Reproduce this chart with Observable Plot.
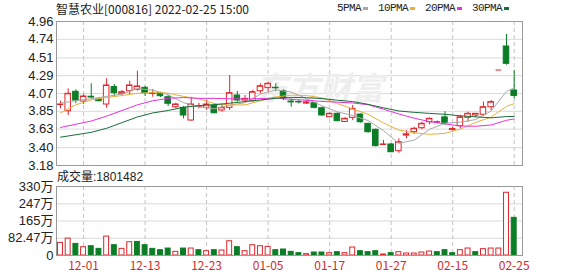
<!DOCTYPE html>
<html><head><meta charset="utf-8">
<script src="https://cdn.jsdelivr.net/npm/d3@7"></script>
<script src="https://cdn.jsdelivr.net/npm/@observablehq/plot@0.6"></script>
<style>
body{margin:0;background:#fff;}
#wrap{position:relative;width:578px;height:276px;overflow:hidden;background:#fff;}
#wrap svg{position:absolute;left:0;}
#title{position:absolute;left:56px;top:2px;font:12px/14px "Noto Sans CJK SC",sans-serif;color:#222;white-space:pre;}
#legend{position:absolute;left:337px;top:1px;display:flex;align-items:center;font:11px/14px "Liberation Mono",monospace;letter-spacing:-0.6px;color:#222;}
#legend .sw{display:inline-block;width:5px;height:3px;margin-left:2px;margin-right:10px;}
#volLabel{position:absolute;left:57px;top:170px;font:12px/14px "Liberation Sans","Noto Sans CJK SC",sans-serif;color:#222;}
</style></head>
<body>
<div id="wrap">
  <div id="title"></div>
  <div id="legend"></div>
  <div id="volLabel"></div>
</div>
<script>
const titleText = "智慧农业[000816] 2022-02-25 15:00";
const volumeText = "成交量:1801482";
const maNames = ["5PMA","10PMA","20PMA","30PMA"];
const maColors = ["#a8a8a8","#e6b23c","#e632e0","#1a6e3a"];

const dates = ["11-26","11-29","11-30","12-01","12-02","12-03","12-06","12-07","12-08","12-09","12-10","12-13","12-14","12-15","12-16","12-17","12-20","12-21","12-22","12-23","12-24","12-27","12-28","12-29","12-30","12-31","01-04","01-05","01-06","01-07","01-10","01-11","01-12","01-13","01-14","01-17","01-18","01-19","01-20","01-21","01-24","01-25","01-26","01-27","01-28","02-07","02-08","02-09","02-10","02-11","02-14","02-15","02-16","02-17","02-18","02-21","02-22","02-23","02-24","02-25"];

const open = [3.93,3.851,4.091,3.971,4.03,3.995,3.934,4.149,4.066,4.098, 4.116,4.14,4.066,4.074,4.024,3.90,3.893,3.736,3.905,3.893, 3.922,3.86,3.893,4.045,3.983,3.975,4.098,4.14,4.14,4.098, 3.97,3.965,3.945,3.95,3.888,3.777,3.819,3.718,3.769,3.81, 3.695,3.621,3.435,3.44,3.357,3.55,3.592,3.641,3.715,3.713, 3.775,3.62,3.666,3.769,3.798,3.807,3.90,4.36,4.651,4.107];
const high = [3.975,4.128,4.116,4.058,4.19,4.01,4.252,4.181,4.107,4.222, 4.346,4.157,4.12,4.086,4.045,3.95,3.909,4.024,3.95,3.983, 3.943,3.943,4.292,4.095,4.045,4.107,4.19,4.21,4.19,4.116, 4.004,3.99,3.98,3.96,3.90,3.83,3.83,3.77,3.922,3.819, 3.703,3.63,3.49,3.45,3.51,3.61,3.653,3.715,3.769,3.73, 3.845,3.653,3.80,3.839,3.82,3.963,3.983,4.36,4.80,4.354];
const low = [3.88,3.798,3.943,3.934,4.01,3.965,3.888,4.024,4.045,4.058, 4.098,4.033,4.024,4.02,3.909,3.88,3.757,3.728,3.88,3.86, 3.819,3.839,3.86,3.963,3.963,3.963,4.066,4.086,4.098,3.983, 3.90,3.94,3.935,3.88,3.79,3.77,3.72,3.71,3.736,3.703, 3.579,3.41,3.43,3.34,3.332,3.51,3.563,3.621,3.683,3.70, 3.674,3.604,3.634,3.715,3.769,3.786,3.86,4.36,4.42,4.004];
const close = [3.934,4.066,3.983,4.033,4.02,3.975,4.169,4.074,4.086,4.169, 4.157,4.074,4.07,4.037,3.943,3.934,3.798,3.934,3.909,3.934, 3.826,3.893,4.074,3.983,4.004,4.086,4.16,4.19,4.135,4.01, 3.96,3.96,3.96,3.893,3.798,3.819,3.728,3.757,3.88,3.715, 3.592,3.419,3.44,3.344,3.468,3.565,3.634,3.695,3.757,3.715, 3.708,3.63,3.775,3.819,3.819,3.90,3.963,4.36,4.437,4.04];

// volume in 万 (10,000 shares)
const volume = [60.3,80.9,55.5,39.7,44.4,31.7,90.4,49.2,31.7,63.5, 65.0,49.2,31.7,25.4,33.3,17.5,33.3,33.3,25.4,20.6, 25.4,23.8,68.2,39.7,20.6,49.2,44.4,41.3,25.4,28.6, 17.5,11.1,6.3,14.3,14.3,11.1,15.9,11.1,38.1,20.6, 15.9,20.6,4.8,11.1,15.9,9.5,9.5,14.3,19.0,15.9, 25.4,11.1,25.4,33.3,15.9,30.2,33.3,33.3,300.0,180.1482];
const volumeUp = [1,1,0,1,0,0,1,0,1,1, 0,0,0,0,0,1,0,1,0,1, 0,1,1,0,1,1,1,1,0,0, 0,0,1,0,0,1,0,1,1,0, 0,0,1,0,1,1,1,1,1,0, 0,0,1,1,0,1,1,1,1,0];

const maIdx = [0,2,4,6,8,10,12,14,16,18,20,22,24,26,28,30,32,34,36,38,40,42,44,46,48,50,52,54,56,58,59];
const ma5 = [3.95,3.98,4.005,4.034,4.063,4.131,4.111,4.056,3.956,3.904,3.880,3.927,3.956,4.061,4.114,4.089,4.006,3.918,3.843,3.798,3.736,3.611,3.454,3.495,3.627,3.702,3.716,3.748,3.854,4.096,4.14];
const ma10 = [3.83,3.93,3.99,4.02,4.045,4.072,4.082,4.075,4.034,4.003,3.946,3.928,3.929,3.980,4.028,4.049,4.045,4.016,3.946,3.879,3.813,3.706,3.618,3.584,3.565,3.577,3.630,3.713,3.778,3.912,3.944];
const ma20 = [3.65,3.69,3.73,3.79,3.86,3.93,3.98,4.01,4.02,4.01,4.009,4.005,4.002,4.007,4.015,3.997,3.987,3.972,3.963,3.953,3.931,3.876,3.817,3.765,3.722,3.695,3.668,3.665,3.681,3.739,3.755];
const ma30 = [3.53,3.56,3.59,3.64,3.71,3.78,3.83,3.86,3.90,3.92,3.93,3.95,3.97,3.99,4.01,4.022,4.018,4.007,3.987,3.970,3.936,3.893,3.854,3.837,3.824,3.813,3.794,3.782,3.769,3.785,3.786];

const priceTicks = [3.18,3.40,3.63,3.85,4.07,4.29,4.51,4.74,4.96];
const volTicks = [0,82.47,165,247,330];
const volTickLabels = ["0","82.47万","165万","247万","330万"];
const xTickLabels = ["12-01","12-13","12-23","01-05","01-17","01-27","02-15","02-25"];

const RED = "#e0242a", GREEN = "#0b7d26";
const candles = dates.map((d, i) => ({i, date: d, open: open[i], high: high[i], low: low[i], close: close[i], vol: volume[i], volUp: volumeUp[i]}));
const up = candles.filter(d => d.close >= d.open);
const down = candles.filter(d => d.close < d.open);
const volRed = candles.filter(d => d.volUp);
const volGreen = candles.filter(d => !d.volUp);
const tickIdx = xTickLabels.map(l => dates.indexOf(l));
const maSeries = [ma5, ma10, ma20, ma30].map(vals => maIdx.map((i, k) => ({i, v: vals[k]})));

const HB = 0.36, HV = 0.32;
const xOpt = {type: "linear", domain: [-0.52, 60.08], axis: null, label: null};
const baseStyle = {fontFamily: "'Liberation Sans', 'Noto Sans CJK SC', sans-serif", fontSize: "13px", color: "#222", background: "transparent", overflow: "visible"};

document.getElementById("title").textContent = titleText;
document.getElementById("volLabel").textContent = volumeText;
const legend = document.getElementById("legend");
maNames.forEach((n, k) => {
  const t = document.createElement("span"); t.textContent = n; legend.appendChild(t);
  const s = document.createElement("span"); s.className = "sw"; s.style.background = maColors[k]; legend.appendChild(s);
});

const price = Plot.plot({
  width: 578, height: 172, marginLeft: 56, marginRight: 56, marginTop: 21, marginBottom: 7,
  style: baseStyle,
  x: xOpt,
  y: {domain: [3.18, 4.96], axis: null, label: null},
  marks: [
    Plot.gridY(priceTicks, {stroke: "#dadada", strokeOpacity: 1}),
    Plot.ruleX(tickIdx, {stroke: "#c4c4c4", strokeDasharray: "4,3"}),
    Plot.text(["东方财富"], {frameAnchor: "middle", dx: 30, dy: -4, fontSize: 32, fontWeight: "bold", fontStyle: "italic", fill: "#eeeeee", fontFamily: "'Noto Sans CJK SC'"}),
    Plot.ruleX(up, {x: "i", y1: "low", y2: "high", stroke: RED}),
    Plot.ruleX(down, {x: "i", y1: "low", y2: "high", stroke: GREEN}),
    Plot.rect(up, {x1: d => d.i - HB, x2: d => d.i + HB, y1: "open", y2: "close", fill: "white", stroke: RED}),
    Plot.rect(down, {x1: d => d.i - HB, x2: d => d.i + HB, y1: "open", y2: "close", fill: GREEN, stroke: GREEN}),
    Plot.ruleY(up, {y: "close", x1: d => d.i - HB, x2: d => d.i + HB, stroke: RED}),
    ...maSeries.map((s, k) => Plot.line(s, {x: "i", y: "v", stroke: maColors[k], strokeWidth: 1})),
    Plot.axisY(priceTicks, {tickSize: 0, tickPadding: 3, tickFormat: d => d.toFixed(2), fontSize: 13, fill: "#222", label: null}),
    Plot.frame({stroke: "#9a9a9a"})
  ]
});
price.style.top = "0px";
document.getElementById("wrap").appendChild(price);

const vol = Plot.plot({
  width: 578, height: 104, marginLeft: 56, marginRight: 56, marginTop: 14, marginBottom: 21,
  style: baseStyle,
  x: xOpt,
  y: {domain: [0, 330], axis: null, label: null},
  marks: [
    Plot.gridY(volTicks, {stroke: "#dadada", strokeOpacity: 1}),
    Plot.ruleX(tickIdx, {stroke: "#c4c4c4", strokeDasharray: "4,3"}),
    Plot.rect(volRed, {x1: d => d.i - HV, x2: d => d.i + HV, y1: d => 0, y2: "vol", fill: "white", stroke: RED}),
    Plot.rect(volGreen, {x1: d => d.i - HV, x2: d => d.i + HV, y1: d => 0, y2: "vol", fill: GREEN, stroke: GREEN}),
    Plot.axisY(volTicks, {tickSize: 0, tickPadding: 3, tickFormat: d => volTickLabels[volTicks.indexOf(d)], fontSize: 13, fill: "#222", label: null}),
    Plot.axisX(tickIdx, {tickSize: 0, tickPadding: 6, tickFormat: i => dates[i], fontSize: 12, fill: "#d42a2a", fontFamily: "'Noto Sans CJK SC', sans-serif", label: null}),
    Plot.frame({stroke: "#9a9a9a"})
  ]
});
vol.style.top = "172px";
document.getElementById("wrap").appendChild(vol);
</script>
</body></html>
